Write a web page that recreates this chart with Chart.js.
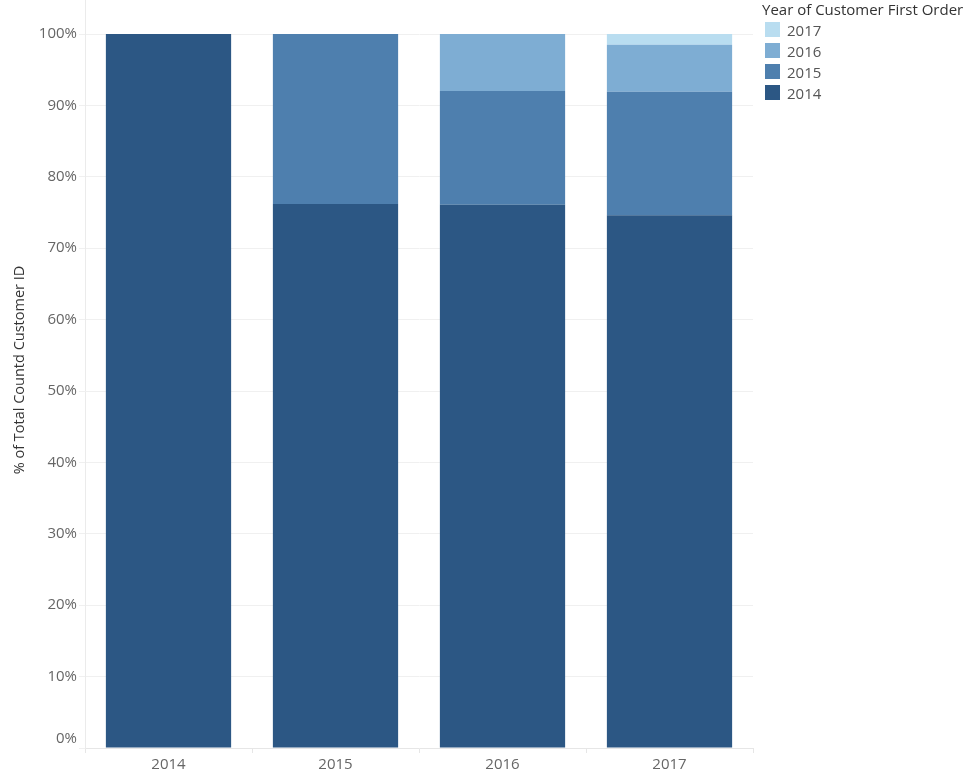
<!DOCTYPE html>
<html>
<head>
<meta charset="utf-8">
<script src="https://cdn.jsdelivr.net/npm/chart.js@4"></script>
<style>
  html, body { margin: 0; padding: 0; background: #fff; }
  #wrap { position: relative; width: 976px; height: 783px; }
  #legend { position: absolute; left: 762px; top: 0px; font-family: "Open Sans", sans-serif; }
  #legend .title { font-size: 15px; color: #333; font-weight: 500; line-height: 18px; margin-top: 0px; margin-bottom: 1px; }
  #legend .item { display: flex; align-items: center; height: 21px; font-size: 15px; color: #555; }
  #legend .sw { width: 15px; height: 15px; margin-left: 3px; margin-right: 7px; }
</style>
</head>
<body>
<div id="wrap">
  <canvas id="c" width="976" height="783"></canvas>
  <div id="legend"></div>
</div>
<script>
const years = ['2014', '2015', '2016', '2017'];
const cohortNames = ['2014', '2015', '2016', '2017'];
const cohort2014 = [100, 76.2, 76.1, 74.6];
const cohort2015 = [null, 23.8, 15.9, 17.3];
const cohort2016 = [null, null, 8.0, 6.6];
const cohort2017 = [null, null, null, 1.5];
const yTicks = [0, 10, 20, 30, 40, 50, 60, 70, 80, 90, 100];
const yTitle = '% of Total Countd Customer ID';
const colors = ['#2c5784', '#4e7fae', '#7eadd3', '#b9ddf0'];

const series = [cohort2014, cohort2015, cohort2016, cohort2017];
const datasets = series.map((d, i) => ({
  label: cohortNames[i],
  data: d,
  backgroundColor: colors[i],
  borderWidth: 0,
  categoryPercentage: 1.0,
  barPercentage: 0.75
}));

// HTML legend (reverse order, as in the reference)
const lg = document.getElementById('legend');
let html = '<div class="title">Year of Customer First Order</div>';
for (let i = cohortNames.length - 1; i >= 0; i--) {
  html += '<div class="item"><span class="sw" style="background:' + colors[i] + '"></span>' + cohortNames[i] + '</div>';
}
lg.innerHTML = html;

const extras = {
  id: 'extras',
  afterDraw(chart) {
    const ctx = chart.ctx, a = chart.chartArea, y = chart.scales.y;
    ctx.save();
    // axis line extends to the top of the view
    ctx.strokeStyle = '#ebebeb';
    ctx.lineWidth = 1;
    ctx.beginPath();
    ctx.moveTo(a.left + 0.5, 0);
    ctx.lineTo(a.left + 0.5, a.top);
    ctx.stroke();
    // bottom tick label nudged up (as in the reference)
    ctx.font = '15px "Open Sans", sans-serif';
    ctx.fillStyle = '#666';
    ctx.textAlign = 'right';
    ctx.textBaseline = 'middle';
    ctx.fillText(yTicks[0] + '%', a.left - 8, y.getPixelForValue(yTicks[0]) - 9);
    // axis title
    ctx.translate(20, 370);
    ctx.rotate(-Math.PI / 2);
    ctx.font = '14.5px "Open Sans", sans-serif';
    ctx.fillStyle = '#333';
    ctx.textAlign = 'center';
    ctx.fillText(yTitle, 0, 0);
    ctx.restore();
  }
};

Chart.defaults.font.family = '"Open Sans", sans-serif';

new Chart(document.getElementById('c'), {
  type: 'bar',
  data: { labels: years, datasets },
  plugins: [extras],
  options: {
    responsive: false,
    animation: false,
    layout: { padding: { top: 34, right: 223, left: 0, bottom: 0 } },
    plugins: { legend: { display: false }, tooltip: { enabled: false } },
    scales: {
      x: {
        stacked: true,
        grid: { display: true, drawOnChartArea: false, drawTicks: true, tickLength: 5, color: '#e6e6e6' },
        border: { display: true, color: '#e6e6e6' },
        ticks: { color: '#666', font: { size: 15 }, padding: 3 },
        afterFit(s) { s.height = 35; }
      },
      y: {
        stacked: true,
        min: 0,
        max: 100,
        afterBuildTicks(s) { s.ticks = yTicks.map(v => ({ value: v })); },
        grid: { color: '#f0f0f0', tickLength: 6 },
        border: { display: true, color: '#ebebeb' },
        ticks: { color: '#666', font: { size: 15 }, padding: 2, callback: v => v === yTicks[0] ? '' : v + '%' },
        title: { display: false },
        afterFit(s) { s.width = 85; }
      }
    }
  }
});
</script>
</body>
</html>
